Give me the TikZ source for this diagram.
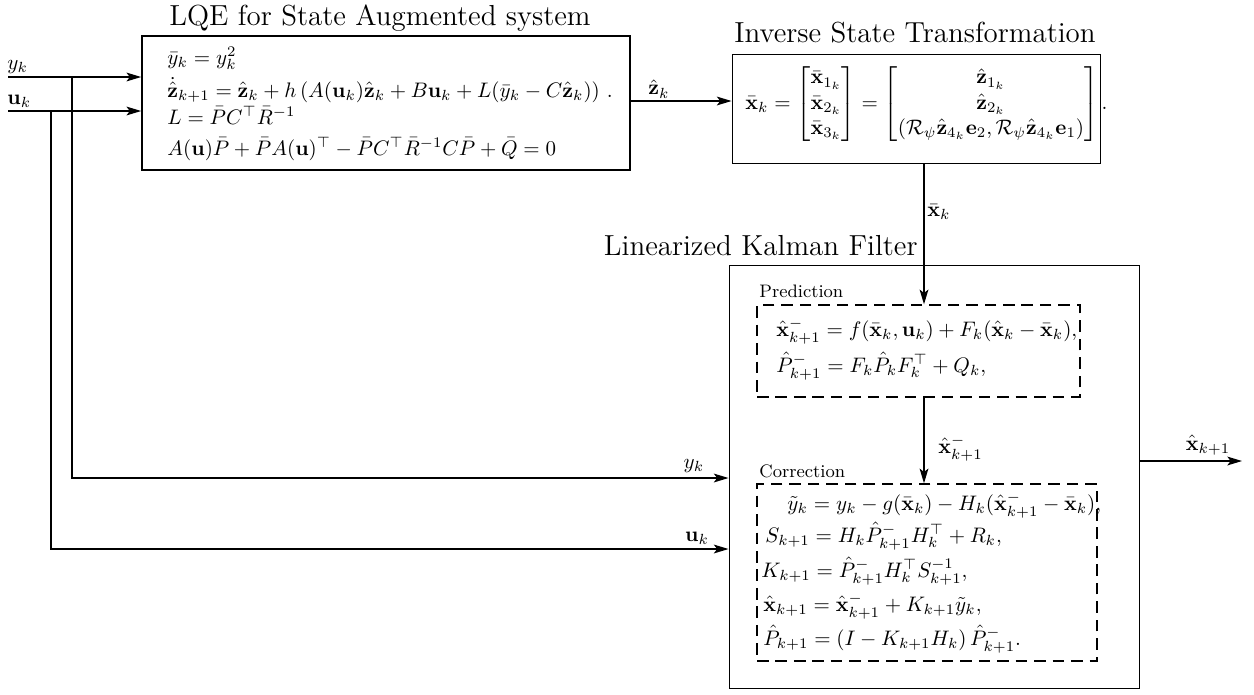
\documentclass[tikz,border=0pt]{standalone}
\usepackage{amsmath,amssymb}
\usetikzlibrary{arrows.meta}
\newdimen\pxu \pxu=0.4762pt
\begin{document}
\begin{tikzpicture}[x=0.4762pt,y=-0.4762pt,
  box/.style={draw, rectangle, inner sep=0pt, line width=0.45pt},
  dbox/.style={draw, rectangle, inner sep=0pt, line width=0.7pt, dash pattern=on 5.5pt off 3.3pt},
  ttl/.style={font=\fontsize{13.8}{16}\selectfont, inner sep=0pt, anchor=base},
  eq/.style={inner sep=0pt, anchor=base west},
  lbl/.style={inner sep=0pt},
  sublbl/.style={font=\fontsize{8.6}{10}\selectfont, inner sep=0pt, anchor=base west},
  arr/.style={-{Stealth[length=7pt,width=4.2pt,inset=1.6pt]}, line width=0.6pt}]
\useasboundingbox (0,0) rectangle (1254,694);

% boxes
\node[box, line width=0.8pt, minimum width=488\pxu, minimum height=134\pxu] (lqe) at (386,103) {};
\node[box, minimum width=368\pxu, minimum height=109\pxu] (ist) at (916,108.5) {};
\node[box, minimum width=410\pxu, minimum height=423\pxu] (kf) at (934,476.5) {};
\node[dbox, minimum width=323\pxu, minimum height=92\pxu] (pred) at (918.5,351) {};
\node[dbox, minimum width=340\pxu, minimum height=177\pxu] (corr) at (927,572.5) {};

% titles
\node[ttl] (tlqe) at (380,25) {LQE for State Augmented system};
\node[ttl] (tist) at (915,42) {Inverse State Transformation};
\node[ttl, anchor=base east] (tkf) at (918,255) {Linearized Kalman Filter};

% LQE content
\node[eq] (l1) at (167,64) {$\bar{y}_k = y_k^2$};
\node[eq] (l2) at (167,97) {$\dot{\hat{\mathbf{z}}}_{k+1} = \hat{\mathbf{z}}_k + h\left(A(\mathbf{u}_k)\hat{\mathbf{z}}_k + B\mathbf{u}_k + L(\bar{y}_k - C\hat{\mathbf{z}}_k)\right)\,.$};
\node[eq] (l3) at (167,124) {$L = \bar{P}C^\top\bar{R}^{-1}$};
\node[eq] (l4) at (167,155) {$A(\mathbf{u})\bar{P} + \bar{P}A(\mathbf{u})^\top - \bar{P}C^\top\bar{R}^{-1}C\bar{P} + \bar{Q} = 0$};

% inverse transformation content
\node[inner sep=0pt, anchor=west] (ieq) at (745,104) {$\bar{\mathbf{x}}_k = \begin{bmatrix}\bar{\mathbf{x}}_{1_k}\\ \bar{\mathbf{x}}_{2_k}\\ \bar{\mathbf{x}}_{3_k}\end{bmatrix} = \begin{bmatrix}\hat{\mathbf{z}}_{1_k}\\ \hat{\mathbf{z}}_{2_k}\\ (\mathcal{R}_\psi\hat{\mathbf{z}}_{4_k}\mathbf{e}_2, \mathcal{R}_\psi\hat{\mathbf{z}}_{4_k}\mathbf{e}_1)\end{bmatrix}.$};

% prediction
\node[sublbl] (plbl) at (759,297) {Prediction};
\node[eq] (p1) at (776,336) {$\hat{\mathbf{x}}^-_{k+1} = f(\bar{\mathbf{x}}_k, \mathbf{u}_k) + F_k(\hat{\mathbf{x}}_k - \bar{\mathbf{x}}_k),$};
\node[eq] (p2) at (776,372) {$\hat{P}^-_{k+1} = F_k\hat{P}_kF_k^\top + Q_k,$};

% correction
\node[sublbl] (clbl) at (759,477) {Correction};
\node[eq] (c1) at (787,510) {$\tilde{y}_k = y_k - g(\bar{\mathbf{x}}_k) - H_k(\hat{\mathbf{x}}^-_{k+1} - \bar{\mathbf{x}}_k),$};
\node[eq] (c2) at (765,542) {$S_{k+1} = H_k\hat{P}^-_{k+1}H_k^\top + R_k,$};
\node[eq] (c3) at (761,577) {$K_{k+1} = \hat{P}^-_{k+1}H_k^\top S_{k+1}^{-1},$};
\node[eq] (c4) at (763,611) {$\hat{\mathbf{x}}_{k+1} = \hat{\mathbf{x}}^-_{k+1} + K_{k+1}\tilde{y}_k,$};
\node[eq] (c5) at (763,645) {$\hat{P}_{k+1} = \left(I - K_{k+1}H_k\right)\hat{P}^-_{k+1}.$};

% helper coordinates
\coordinate (yin) at (8,77);
\coordinate (uin) at (8,111);
\coordinate (ybr) at (72,77);
\coordinate (ubr) at (51,111);
\coordinate (yrow) at (0,478);
\coordinate (urow) at (0,549);
\coordinate (zrow) at (0,101);
\coordinate (col) at (924,0);
\coordinate (orow) at (0,461);
\coordinate (out) at (1242,461);

% connectors
\draw[arr] (yin) -- (yin -| lqe.west);
\draw[arr] (uin) -- (uin -| lqe.west);
\draw[arr] (ybr) |- (yrow -| kf.west);
\draw[arr] (ubr) |- (urow -| kf.west);
\draw[arr] (zrow -| lqe.east) -- (zrow -| ist.west);
\draw[arr] (col |- ist.south) -- (col |- pred.north);
\draw[arr] (col |- pred.south) -- (col |- corr.north);
\draw[arr] (orow -| kf.east) -- (out);

% connector labels
\node[lbl, anchor=west] (ylab1) at (7,67) {$y_k$};
\node[lbl, anchor=west] (ulab1) at (7,101) {$\mathbf{u}_k$};
\node[lbl] (ylab2) at (694,466) {$y_k$};
\node[lbl] (ulab2) at (697,538) {$\mathbf{u}_k$};
\node[lbl] (zlab) at (659,89) {$\hat{\mathbf{z}}_k$};
\node[lbl, anchor=west] (xblab) at (927,212) {$\bar{\mathbf{x}}_k$};
\node[lbl, anchor=west] (xmlab) at (938,448) {$\hat{\mathbf{x}}^-_{k+1}$};
\node[lbl] (xolab) at (1208,445) {$\hat{\mathbf{x}}_{k+1}$};
\end{tikzpicture}
\end{document}
